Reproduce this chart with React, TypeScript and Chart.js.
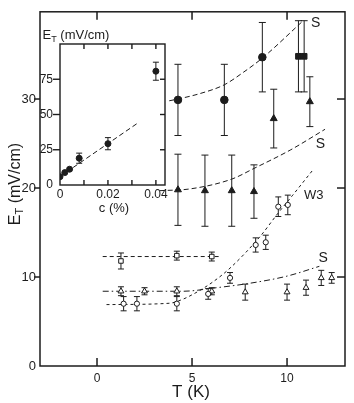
import React, { useEffect, useRef } from "react";
import { Chart, registerables } from "chart.js";
Chart.register(...registerables);

const W = 354;
const H = 403;
const INK = "#1c1c1c";
const FONT = "'Liberation Sans', Arial, Helvetica, sans-serif";

// ---------- main chart data ----------
const xTicks = [0, 5, 10];
const yTicks = [0, 10, 20, 30];

const filledCircleT = [4.26, 6.7, 8.7];
const filledCircleE = [29.9, 29.9, 34.7];
const filledCircleErr = [4, 4, 3.9];

const filledSquareT = [10.6, 10.9];
const filledSquareE = [34.8, 34.8];
const filledSquareErr = [4, 4];

const filledTriT = [4.26, 5.68, 7.09, 8.26, 9.3, 11.2];
const filledTriE = [19.8, 19.7, 19.7, 19.6, 27.8, 29.7];
const filledTriErr = [4, 4, 4, 3, 3.3, 2.8];

const openSquareT = [1.26, 4.2, 6.04];
const openSquareE = [11.8, 12.4, 12.3];
const openSquareErr = [0.9, 0.5, 0.5];

const openCircleT = [1.4, 2.1, 4.2, 5.85, 7.0, 8.35, 8.88, 9.54, 10.04];
const openCircleE = [7.0, 7.0, 7.0, 8.1, 9.9, 13.6, 13.9, 17.9, 18.1];
const openCircleErr = [0.8, 0.8, 0.8, 0.6, 0.6, 0.8, 0.8, 1.1, 1.1];

const openTriT = [1.26, 2.5, 4.2, 6.04, 7.8, 10.0, 11.0, 11.8, 12.35];
const openTriE = [8.4, 8.4, 8.4, 8.4, 8.3, 8.3, 8.8, 9.9, 9.9];
const openTriErr = [0.5, 0.4, 0.5, 0.4, 0.9, 0.9, 0.85, 0.85, 0.6];

// guide curves
const curveS1T = [3.8, 4.26, 5.4, 6.7, 7.7, 8.7, 10.8];
const curveS1E = [29.8, 30.0, 30.6, 31.6, 33.0, 34.6, 38.7];
const curveS2T = [3.3, 4.9, 7.09, 8.26, 10.2, 12.0];
const curveS2E = [19.7, 19.9, 21.0, 22.2, 24.3, 26.6];
const curveW3T = [0.5, 3.8, 4.4, 5.0, 6.0, 7.0, 8.6, 9.5, 10.3, 11.35];
const curveW3E = [6.9, 7.05, 7.4, 8.0, 9.3, 11.0, 14.6, 17.1, 19.2, 22.0];
const curveSqT = [0.3, 6.4];
const curveSqE = [12.3, 12.3];
const curveS3T = [0.3, 4.5, 6.3, 8.05, 10.0, 11.7];
const curveS3E = [8.4, 8.4, 8.8, 9.3, 10.1, 11.2];

const curveLabels = ["S", "S", "W3", "S"];
const curveLabelT = [11.5, 11.75, 11.4, 11.9];
const curveLabelE = [38.5, 24.9, 19.2, 12.1];

// ---------- inset data ----------
const insetC = [0, 0.002, 0.004, 0.008, 0.02, 0.04];
const insetE = [5.9, 8.8, 11.2, 19, 29.3, 80.7];
const insetErr = [0, 0, 0, 3.6, 4.3, 6.4];
const insetFitC = [0, 0.0325];
const insetFitE = [6, 44];
const insetXLabels = [0, 0.02, 0.04];
const insetXMarks = [0.01, 0.02, 0.03, 0.04];
const insetYTicks = [0, 25, 50, 75];
const insetYMarks = [25, 50, 75];

const pts = (xs: number[], ys: number[]) => xs.map((x, i) => ({ x, y: ys[i] }));

function line(ctx: CanvasRenderingContext2D, x1: number, y1: number, x2: number, y2: number) {
  ctx.beginPath();
  ctx.moveTo(x1, y1);
  ctx.lineTo(x2, y2);
  ctx.stroke();
}

const errorBarPlugin = {
  id: "errorBars",
  beforeDatasetsDraw(chart: any) {
    const ctx = chart.ctx;
    const xs = chart.scales.x;
    const ys = chart.scales.y;
    chart.data.datasets.forEach((ds: any) => {
      if (!ds.errors) return;
      ctx.save();
      ctx.strokeStyle = INK;
      ctx.lineWidth = 1;
      ctx.setLineDash([]);
      const cap = ds.capHalf || 3;
      ds.data.forEach((p: any, j: number) => {
        const e = ds.errors[j];
        if (!e) return;
        const px = xs.getPixelForValue(p.x);
        const y1 = ys.getPixelForValue(p.y + e);
        const y2 = ys.getPixelForValue(p.y - e);
        line(ctx, px, y1, px, y2);
        line(ctx, px - cap, y1, px + cap, y1);
        line(ctx, px - cap, y2, px + cap, y2);
      });
      ctx.restore();
    });
  },
};

function framePlugin(xMarks: number[], yMarks: number[], inLen: number, outLen: number, lw: number) {
  return {
    id: "frame",
    afterDraw(chart: any) {
      const ctx = chart.ctx;
      const a = chart.chartArea;
      const xs = chart.scales.x;
      const ys = chart.scales.y;
      ctx.save();
      ctx.strokeStyle = INK;
      ctx.lineWidth = lw;
      ctx.setLineDash([]);
      ctx.strokeRect(a.left, a.top, a.right - a.left, a.bottom - a.top);
      xMarks.forEach((v) => {
        const px = xs.getPixelForValue(v);
        line(ctx, px, a.bottom, px, a.bottom - inLen);
        line(ctx, px, a.top, px, a.top + inLen);
      });
      yMarks.forEach((v) => {
        const py = ys.getPixelForValue(v);
        line(ctx, a.left, py, a.left - outLen, py);
        line(ctx, a.right, py, a.right - inLen, py);
      });
      ctx.restore();
    },
  };
}

function drawETitle(
  ctx: CanvasRenderingContext2D,
  cx: number,
  cy: number,
  rotate: boolean,
  size: number,
  subSize: number,
  rest: string
) {
  ctx.save();
  ctx.translate(cx, cy);
  if (rotate) ctx.rotate(-Math.PI / 2);
  ctx.fillStyle = INK;
  ctx.textAlign = "left";
  ctx.textBaseline = "alphabetic";
  ctx.font = `${size}px ${FONT}`;
  const wE = ctx.measureText("E").width;
  const wR = ctx.measureText(rest).width;
  ctx.font = `${subSize}px ${FONT}`;
  const wT = ctx.measureText("T").width;
  let x = -(wE + wT + wR) / 2;
  const base = size * 0.36;
  ctx.font = `${size}px ${FONT}`;
  ctx.fillText("E", x, base);
  x += wE;
  ctx.font = `${subSize}px ${FONT}`;
  ctx.fillText("T", x, base + size * 0.22);
  x += wT;
  ctx.font = `${size}px ${FONT}`;
  ctx.fillText(rest, x, base);
  ctx.restore();
}

const mainTextPlugin = {
  id: "mainText",
  afterDraw(chart: any) {
    const ctx = chart.ctx;
    const xs = chart.scales.x;
    const ys = chart.scales.y;
    drawETitle(ctx, 14, 184, true, 16, 11, " (mV/cm)");
    ctx.save();
    ctx.fillStyle = INK;
    ctx.textAlign = "center";
    ctx.textBaseline = "middle";
    ctx.font = `17px ${FONT}`;
    ctx.fillText("T (K)", 191, 392);
    curveLabels.forEach((t, i) => {
      ctx.font = `${t === "W3" ? 13 : 14}px ${FONT}`;
      ctx.fillText(t, xs.getPixelForValue(curveLabelT[i]), ys.getPixelForValue(curveLabelE[i]));
    });
    ctx.restore();
  },
};

const insetTextPlugin = {
  id: "insetText",
  afterDraw(chart: any) {
    const ctx = chart.ctx;
    drawETitle(ctx, 76, 34, false, 13, 9, " (mV/cm)");
    ctx.save();
    ctx.fillStyle = INK;
    ctx.textAlign = "center";
    ctx.textBaseline = "middle";
    ctx.font = `13px ${FONT}`;
    ctx.fillText("c (%)", 114, 208);
    ctx.restore();
  },
};

function markerSet(
  label: string,
  xs: number[],
  ys: number[],
  errs: number[],
  style: string,
  r: number,
  filled: boolean,
  cap: number
) {
  return {
    label,
    type: "scatter",
    data: pts(xs, ys),
    errors: errs,
    capHalf: cap,
    showLine: false,
    pointStyle: style,
    pointRadius: r,
    pointBorderWidth: 1,
    pointBorderColor: INK,
    pointBackgroundColor: filled ? INK : "#ffffff",
  };
}

function curveSet(label: string, xs: number[], ys: number[], dash: number[], width = 1) {
  return {
    label,
    type: "line",
    data: pts(xs, ys),
    showLine: true,
    borderColor: INK,
    borderWidth: width,
    borderDash: dash,
    pointRadius: 0,
    fill: false,
    cubicInterpolationMode: "monotone",
  };
}

export default function App() {
  const mainRef = useRef<HTMLCanvasElement>(null);
  const insetRef = useRef<HTMLCanvasElement>(null);

  useEffect(() => {
    Chart.defaults.font.family = FONT;
    Chart.defaults.color = INK;

    const main = new Chart(mainRef.current as HTMLCanvasElement, {
      type: "scatter",
      data: {
        datasets: [
          markerSet("filled circles", filledCircleT, filledCircleE, filledCircleErr, "circle", 3.8, true, 3.5),
          markerSet("filled squares", filledSquareT, filledSquareE, filledSquareErr, "rect", 4, true, 3.5),
          markerSet("filled triangles", filledTriT, filledTriE, filledTriErr, "triangle", 4, true, 3.5),
          markerSet("open squares", openSquareT, openSquareE, openSquareErr, "rect", 3.2, false, 3),
          markerSet("open circles", openCircleT, openCircleE, openCircleErr, "circle", 2.6, false, 3),
          markerSet("open triangles", openTriT, openTriE, openTriErr, "triangle", 3.4, false, 3),
          curveSet("S (upper)", curveS1T, curveS1E, [5, 3]),
          curveSet("S (middle)", curveS2T, curveS2E, [5, 3]),
          curveSet("W3", curveW3T, curveW3E, [3, 3]),
          curveSet("squares guide", curveSqT, curveSqE, [4, 3]),
          curveSet("S (lower)", curveS3T, curveS3E, [6, 3, 1.5, 3]),
        ] as any,
      },
      options: {
        responsive: false,
        animation: false,
        events: [],
        layout: { padding: { left: 0, top: 8, right: 9, bottom: 0 } },
        plugins: { legend: { display: false }, tooltip: { enabled: false } },
        scales: {
          x: {
            type: "linear",
            min: -3,
            max: 13.05,
            grid: { display: false, drawTicks: false },
            border: { display: false },
            afterBuildTicks: (s: any) => {
              s.ticks = xTicks.map((v) => ({ value: v }));
            },
            afterFit: (s: any) => {
              s.height = 37;
            },
            ticks: {
              padding: 5,
              color: INK,
              font: { size: 12, family: FONT },
              maxRotation: 0,
              callback: (v: any) => String(v),
            },
          },
          y: {
            type: "linear",
            min: 0,
            max: 39.8,
            grid: { display: false, drawTicks: false },
            border: { display: false },
            afterBuildTicks: (s: any) => {
              s.ticks = yTicks.map((v) => ({ value: v }));
            },
            afterFit: (s: any) => {
              s.width = 40;
            },
            ticks: {
              padding: 4,
              color: INK,
              font: { size: 13, family: FONT },
              callback: (v: any) => String(v),
            },
          },
        },
      } as any,
      plugins: [errorBarPlugin, framePlugin(xTicks, [10, 20, 30], 8, 6, 1.5), mainTextPlugin] as any,
    });

    const inset = new Chart(insetRef.current as HTMLCanvasElement, {
      type: "scatter",
      data: {
        datasets: [
          markerSet("E_T vs c", insetC, insetE, insetErr, "circle", 3, true, 3),
          curveSet("fit", insetFitC, insetFitE, [5, 3]),
        ] as any,
      },
      options: {
        responsive: false,
        animation: false,
        events: [],
        layout: { padding: { left: 0, top: 44, right: 189, bottom: 0 } },
        plugins: { legend: { display: false }, tooltip: { enabled: false } },
        scales: {
          x: {
            type: "linear",
            min: 0,
            max: 0.0438,
            grid: { display: false, drawTicks: false },
            border: { display: false },
            afterBuildTicks: (s: any) => {
              s.ticks = insetXLabels.map((v) => ({ value: v }));
            },
            afterFit: (s: any) => {
              s.height = H - 185;
            },
            ticks: {
              padding: 2,
              color: INK,
              font: { size: 12, family: FONT },
              maxRotation: 0,
              callback: (v: any) => (v === 0 ? "0" : Number(v).toFixed(2)),
            },
          },
          y: {
            type: "linear",
            min: 0,
            max: 100,
            grid: { display: false, drawTicks: false },
            border: { display: false },
            afterBuildTicks: (s: any) => {
              s.ticks = insetYTicks.map((v) => ({ value: v }));
            },
            afterFit: (s: any) => {
              s.width = 60;
            },
            ticks: {
              padding: 7,
              color: INK,
              font: { size: 12, family: FONT },
              callback: (v: any) => String(v),
            },
          },
        },
      } as any,
      plugins: [errorBarPlugin, framePlugin(insetXMarks, insetYMarks, 5, 7, 1.4), insetTextPlugin] as any,
    });

    return () => {
      main.destroy();
      inset.destroy();
    };
  }, []);

  return (
    <div style={{ position: "fixed", left: 0, top: 0, width: W, height: H, background: "#fff" }}>
      <canvas ref={mainRef} width={W} height={H} style={{ position: "absolute", left: 0, top: 0 }} />
      <canvas
        ref={insetRef}
        width={W}
        height={H}
        style={{ position: "absolute", left: 0, top: 0, pointerEvents: "none" }}
      />
    </div>
  );
}
